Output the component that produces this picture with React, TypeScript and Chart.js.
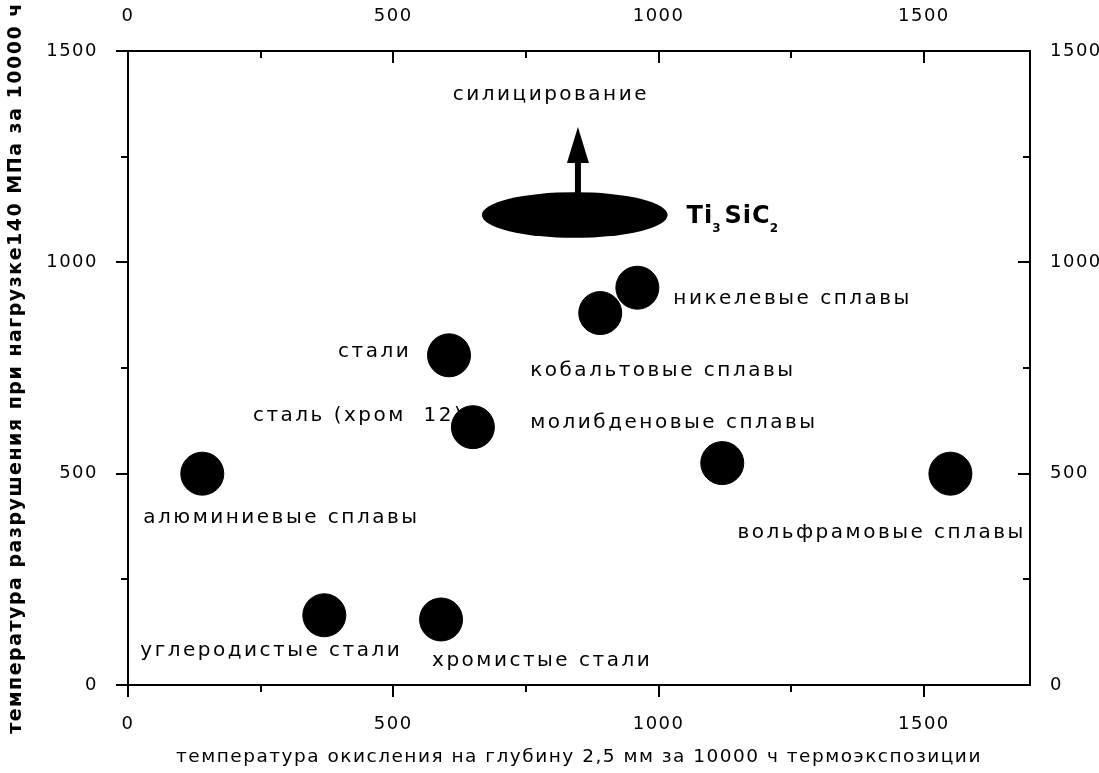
import React, { useEffect, useRef } from "react";
import { Chart, registerables } from "chart.js";

Chart.register(...registerables);

// ---- data ----
const materials = [
  "алюминиевые сплавы",
  "углеродистые стали",
  "хромистые стали",
  "стали",
  "сталь (хром  12)",
  "кобальтовые сплавы",
  "никелевые сплавы",
  "молибденовые сплавы",
  "вольфрамовые сплавы",
];
const oxidationTemp = [140, 370, 590, 605, 650, 890, 960, 1120, 1550];
const ruptureTemp = [500, 165, 155, 780, 610, 880, 940, 525, 500];

// label offsets (px) from each point centre to the label's left/middle
const labelDx = [-59, -184, -9, -111, -220, -70, 36, -192, -213];
const labelDy = [44, 36, 41, -4, -11, 58, 11, -40, 59];

// Ti3SiC2 region (data units)
const tiCenterX = 842;
const tiCenterY = 1112;
const tiHalfWidth = 175;
const tiHalfHeight = 54;
const arrowX = 848;
const arrowTipY = 1320;
const tiParts = ["Ti", "3", "SiC", "2"];
const tiSub = [false, true, false, true];
const silicLabel = "силицирование";
const silicX = 797;
const silicY = 1396;

// axes
const xMin = 0;
const xMax = 1700;
const yMin = 0;
const yMax = 1500;
const xMajorTicks = [0, 500, 1000, 1500];
const yMajorTicks = [0, 500, 1000, 1500];
const xMinorTicks = [250, 750, 1250];
const yMinorTicks = [250, 750, 1250];

const xTitle = "температура окисления на глубину 2,5 мм за 10000 ч термоэкспозиции";
const yTitle = "температура разрушения при нагрузке140 МПа за 10000 ч";

const FONT = '"DejaVu Sans", sans-serif';

const overlay = {
  id: "overlay",
  beforeDraw(chart: any) {
    chart.ctx.letterSpacing = "1.5px";
  },
  afterDraw(chart: any) {
    const { ctx, chartArea: a } = chart;
    const x = chart.scales.x;
    const y = chart.scales.y;
    ctx.save();
    ctx.letterSpacing = "0px";
    ctx.strokeStyle = "#000";
    ctx.fillStyle = "#000";
    ctx.lineWidth = 2;
    const seg = (x1: number, y1: number, x2: number, y2: number) => {
      ctx.beginPath();
      ctx.moveTo(x1, y1);
      ctx.lineTo(x2, y2);
      ctx.stroke();
    };
    const drawX = (v: number, len: number) => {
      const px = Math.round(x.getPixelForValue(v));
      seg(px, a.bottom, px, a.bottom + len);
      seg(px, a.top, px, a.top + len);
    };
    const drawY = (v: number, len: number) => {
      const py = Math.round(y.getPixelForValue(v));
      seg(a.left - len, py, a.left, py);
      seg(a.right - len, py, a.right, py);
    };
    x.ticks.forEach((t: any) => drawX(t.value, 12));
    xMinorTicks.forEach((v) => drawX(v, 7));
    y.ticks.forEach((t: any) => drawY(t.value, 12));
    yMinorTicks.forEach((v) => drawY(v, 7));

    // Ti3SiC2 ellipse
    const cx = x.getPixelForValue(tiCenterX);
    const cy = y.getPixelForValue(tiCenterY);
    const rx = Math.abs(x.getPixelForValue(tiCenterX + tiHalfWidth) - cx);
    const ry = Math.abs(y.getPixelForValue(tiCenterY + tiHalfHeight) - cy);
    ctx.beginPath();
    ctx.ellipse(cx, cy, rx, ry, 0, 0, Math.PI * 2);
    ctx.fill();

    // arrow
    const ax = x.getPixelForValue(arrowX);
    const aBase = cy - ry + 2;
    const aTip = y.getPixelForValue(arrowTipY);
    const headLen = 36;
    const headHalf = 11;
    ctx.lineWidth = 6;
    seg(ax, aBase, ax, aTip + headLen - 2);
    ctx.beginPath();
    ctx.moveTo(ax, aTip);
    ctx.lineTo(ax - headHalf, aTip + headLen);
    ctx.lineTo(ax + headHalf, aTip + headLen);
    ctx.closePath();
    ctx.fill();

    // point labels
    ctx.font = `20px ${FONT}`;
    ctx.letterSpacing = "2.5px";
    ctx.textBaseline = "middle";
    ctx.textAlign = "left";
    materials.forEach((m, i) => {
      const px = x.getPixelForValue(oxidationTemp[i]) + labelDx[i];
      const py = y.getPixelForValue(ruptureTemp[i]) + labelDy[i];
      ctx.fillText(m, px, py);
    });

    // silicidation
    ctx.textAlign = "center";
    ctx.fillText(silicLabel, x.getPixelForValue(silicX), y.getPixelForValue(silicY));

    // Ti3SiC2 label
    ctx.textAlign = "left";
    ctx.textBaseline = "alphabetic";
    ctx.letterSpacing = "1px";
    let tx = cx + rx + 19;
    const base = cy + 8;
    tiParts.forEach((p, i) => {
      if (tiSub[i]) {
        ctx.font = `bold 12px ${FONT}`;
        ctx.fillText(p, tx - 1, base + 9);
        tx += ctx.measureText(p).width + 2;
      } else {
        ctx.font = `bold 24px ${FONT}`;
        ctx.fillText(p, tx, base);
        tx += ctx.measureText(p).width;
      }
    });
    ctx.restore();
  },
};

export default function App() {
  const ref = useRef<HTMLCanvasElement | null>(null);
  useEffect(() => {
    if (!ref.current) return;
    const tickFont = { family: FONT, size: 18 };
    const fmt = (v: any) => String(v);
    const setX = (s: any) => { s.ticks = xMajorTicks.map((v) => ({ value: v })); };
    const setY = (s: any) => { s.ticks = yMajorTicks.map((v) => ({ value: v })); };
    const chart = new Chart(ref.current, {
      type: "scatter",
      data: {
        datasets: [
          {
            label: "materials",
            data: oxidationTemp.map((v, i) => ({ x: v, y: ruptureTemp[i] })),
            backgroundColor: "#000",
            borderColor: "#000",
            pointRadius: 21.5,
            pointHoverRadius: 21.5,
            xAxisID: "x",
            yAxisID: "y",
          },
        ],
      },
      options: {
        responsive: false,
        animation: false,
        events: [],
        layout: { padding: 0 },
        plugins: { legend: { display: false }, tooltip: { enabled: false } },
        scales: {
          x: {
            type: "linear",
            position: "bottom",
            min: xMin,
            max: xMax,
            grid: { display: false },
            border: { display: true, color: "#000", width: 2 },
            ticks: { color: "#000", font: tickFont, padding: 21, maxRotation: 0, callback: fmt },
            title: { display: true, text: xTitle, color: "#000", font: { family: FONT, size: 18.5 }, padding: { top: 0, bottom: 5 } },
            afterBuildTicks: setX,
            afterFit: (s: any) => { s.height = 88; },
          },
          x2: {
            type: "linear",
            position: "top",
            min: xMin,
            max: xMax,
            grid: { display: false },
            border: { display: true, color: "#000", width: 2 },
            ticks: { color: "#000", font: tickFont, padding: 16, maxRotation: 0, callback: fmt },
            afterBuildTicks: setX,
            afterFit: (s: any) => { s.height = 51; },
          },
          y: {
            type: "linear",
            position: "left",
            min: yMin,
            max: yMax,
            grid: { display: false },
            border: { display: true, color: "#000", width: 2 },
            ticks: { color: "#000", font: tickFont, padding: 22, callback: fmt },
            title: { display: true, text: yTitle, color: "#000", font: { family: FONT, size: 19, weight: "bold" }, padding: { top: 5, bottom: 0 } },
            afterBuildTicks: setY,
            afterFit: (s: any) => { s.width = 128; },
          },
          y2: {
            type: "linear",
            position: "right",
            min: yMin,
            max: yMax,
            grid: { display: false },
            border: { display: true, color: "#000", width: 2 },
            ticks: { color: "#000", font: tickFont, padding: 12, callback: fmt },
            afterBuildTicks: setY,
            afterFit: (s: any) => { s.width = 69; },
          },
        },
      },
      plugins: [overlay],
    } as any);
    return () => chart.destroy();
  }, []);
  return (
    <div style={{ position: "fixed", left: 0, top: 0, width: 1099, height: 773, background: "#fff" }}>
      <canvas ref={ref} width={1099} height={773} style={{ display: "block" }} />
    </div>
  );
}
